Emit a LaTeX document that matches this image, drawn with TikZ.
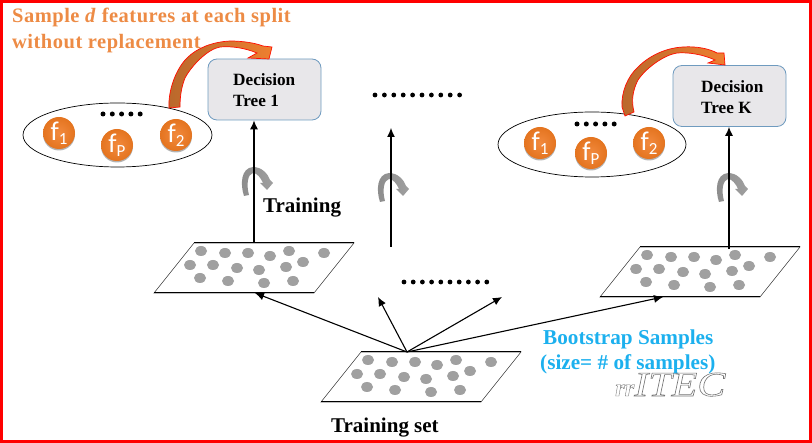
\documentclass[tikz,border=0pt]{standalone}
\usepackage{fontspec}
\setmainfont{Liberation Serif}
\newfontfamily\ballfont{Carlito}
\newfontfamily\titlefont[LetterSpace=2.4,BoldFont={Liberation Serif Bold}]{Liberation Serif}
\usetikzlibrary{shadows,arrows.meta,shapes.geometric}
\definecolor{titleorange}{HTML}{ED8B45}
\definecolor{skyblue}{HTML}{1CB0EE}
\definecolor{boxfill}{HTML}{E8E7EA}
\definecolor{boxedge}{HTML}{6F9BBF}
\definecolor{dotgray}{HTML}{A0A0A0}
\definecolor{F1}{HTML}{F28A3E}
\definecolor{F2}{HTML}{E4741F}
\definecolor{arcbase}{HTML}{B9682C}
\definecolor{archead}{HTML}{EE7F30}
\definecolor{arcmid}{HTML}{E4592A}
\tikzset{
  treebox/.style={draw=boxedge,line width=.8pt,fill=boxfill,rounded corners=9pt,minimum width=113pt,minimum height=61pt,inner sep=0pt},
  treetext/.style={font=\bfseries\fontsize{17.2}{21}\selectfont,align=left,inner sep=0pt,anchor=north west},
  bag/.style={draw=black,line width=.7pt,ellipse,inner sep=0pt},
  fball/.style={circle,minimum size=32pt,inner sep=0pt,inner color=F1,outer color=F2,text=white,
    font=\ballfont\fontsize{27}{27}\selectfont,
    general shadow={fill=black,opacity=.3,shadow yshift=-1.5pt}},
  bigdot/.style={circle,fill=black,minimum size=4.8pt,inner sep=0pt},
  link/.style={line width=1.1pt,-{Latex[length=9pt,width=8pt]}},
  bold label/.style={font=\bfseries\fontsize{21}{21}\selectfont,inner sep=0pt,anchor=base west},
  blue label/.style={font=\bfseries\fontsize{21.2}{21}\selectfont,text=skyblue,inner sep=0pt,anchor=base west},
  title label/.style={font=\titlefont\bfseries\fontsize{20.5}{20}\selectfont,text=titleorange,inner sep=0pt,anchor=base west},
  curved/.style={draw=red!90!orange,line width=.7pt,left color=arcbase,middle color=arcmid,right color=archead},
  turn/.style={left color=gray!90,right color=gray!75,draw=none},
  mark text/.style={inner sep=0pt,anchor=base west,font=\itshape\fontsize{35}{35}\selectfont},
}
\newcommand{\bagdots}[3]{%
  \foreach \k in {0,1,2,3,4} \node[bigdot,minimum size=5pt] (#1d\k) at ({#2+9.3*\k},#3) {};}
\newcommand{\sub}[1]{\raisebox{-.16em}{\fontsize{17}{17}\selectfont #1}}
\newcommand{\marktext}{\special{pdf:code 1 Tr 0.55 w}\scalebox{.7}{\bfseries rr}\scalebox{1.2}[1]{ITEC}\special{pdf:code 0 Tr}}
% name, x shift, y shift
\newcommand{\sampleplane}[3]{%
  \begin{scope}[shift={(#2,#3)}]
    \coordinate (#1tl) at (194,243);
    \coordinate (#1tr) at (354,243);
    \coordinate (#1br) at (314,293);
    \coordinate (#1bl) at (154,293);
    \coordinate (#1tm) at (254,243);
    \draw[line width=.6pt,draw=black!70,fill=white] (#1tl) -- (#1tr) -- (#1br) -- (#1bl) -- cycle;
    \draw[line width=1pt] (#1tl) -- (#1tr) (#1bl) -- (#1br);
    \foreach \x/\y in {201/251,225/253,248/253,270/256,289/251,324/253,190/265,213/265,237/268,259/270,286/267,303/262,200/278,228/281,264/283,293/281}
      \fill[dotgray] (\x,\y) ellipse [x radius=6pt,y radius=5pt];
  \end{scope}}
\newcommand{\turnarrow}[2]{%
  \begin{scope}[shift={(#1,#2)}]
    \path[turn] (244,196) .. controls (240,184) and (241,168) .. (253,167)
      .. controls (262,167) and (268,174) .. (270,180) -- (273,183) -- (267,190) -- (260,183) -- (263,183)
      .. controls (261,178) and (257,173) .. (253,173)
      .. controls (248,174) and (246,184) .. (249,195) -- cycle;
  \end{scope}}
\begin{document}
\begin{tikzpicture}[x=1pt,y=-1pt]
\useasboundingbox (0,0) rectangle (812,443);
\draw[red,line width=2.6pt] (1.3,1.3) rectangle (810.5,441.7);

% sample planes
\sampleplane{L}{0}{0}
\sampleplane{R}{446}{4}
\sampleplane{T}{167}{109}

% trees
\node[treebox] (tree1) at (264.5,89.5) {};
\node[treebox] (treek) at (729.5,96) {};
\node[treetext] (t1a) at (233,73.3) {Decision\\Tree 1};
\node[treetext] (tka) at (701,80) {Decision\\Tree K};

% feature bags
\node[bag,minimum width=189pt,minimum height=64pt] (bagl) at (117.5,135) {};
\node[bag,minimum width=188pt,minimum height=65pt] (bagr) at (592,144.5) {};
\node[fball] (lf1) at (59,133) {f\sub{1}};
\node[fball] (lfp) at (117,145) {f\sub{P}};
\node[fball] (lf2) at (176,135) {f\sub{2}};
\node[fball] (rf1) at (540,143) {f\sub{1}};
\node[fball] (rfp) at (591,153) {f\sub{P}};
\node[fball] (rf2) at (649,143) {f\sub{2}};
\bagdots{l}{103}{114}
\bagdots{r}{577}{124}

% curved orange arrows
\path[curved] (169,108) .. controls (168,92) and (175,70) .. (187,58)
  .. controls (197,48) and (212,42) .. (230,41)
  .. controls (243,41) and (255,43) .. (263,46) -- (272,47) -- (269,59) -- (248,58) -- (257,53)
  .. controls (245,48) and (232,46) .. (220,47)
  .. controls (208,49) and (192,65) .. (185,78)
  .. controls (181,88) and (180,98) .. (180,107) -- cycle;
\path[curved] (622,107) .. controls (621,92) and (628,76) .. (638,67)
  .. controls (648,57) and (664,48) .. (683,47)
  .. controls (697,46) and (710,49) .. (717,53) -- (724,53) -- (725,65) -- (708,63) -- (715,60)
  .. controls (704,55) and (690,52) .. (677,53)
  .. controls (664,55) and (646,68) .. (638,80)
  .. controls (633,90) and (631,100) .. (634,112) -- (625,116) -- cycle;

% rotation arrows
\turnarrow{0}{0}
\turnarrow{136}{6}
\turnarrow{475}{6}

% vertical links
\coordinate (midb) at (391,247);
\coordinate (midt) at (391,128);
\draw[link] (Ltm) -- (tree1.south -| Ltm);
\draw[link] (midb) -- (midt);
\coordinate (Rup) at (729,249);
\draw[link] (Rup) -- (treek.south -| Rup);

% bootstrap links
\coordinate (src) at (407,352);
\coordinate (midl) at (378,297);
\coordinate (midr) at (502,297);
\coordinate (Lin) at (255,293);
\coordinate (Rin) at (663,297);
\draw[link] (src) -- (Lin);
\draw[link] (src) -- (midl);
\draw[link] (src) -- (midr);
\draw[link] (src) -- (Rin);

% dotted rows
\foreach \k in {0,...,9} \node[bigdot] (top\k) at ({375+9.4*\k},95) {};
\foreach \k in {0,...,9} \node[bigdot] (low\k) at ({404+9.2*\k},282) {};

% labels
\node[title label] (title1) at (12,23) {Sample \textit{d} features at each split};
\node[title label] (title2) at (12,48.5) {without replacement};
\node[bold label] (training) at (263,212.5) {Training};
\node[bold label] (trainset) at (331,432.5) {Training set};
\node[blue label] (boot1) at (543,345) {Bootstrap Samples};
\node[blue label] (boot2) at (540,370) {(size= \# of samples)};
\node[mark text,text=black!55] (wm1) at (615,396) {\marktext};
\end{tikzpicture}
\end{document}
